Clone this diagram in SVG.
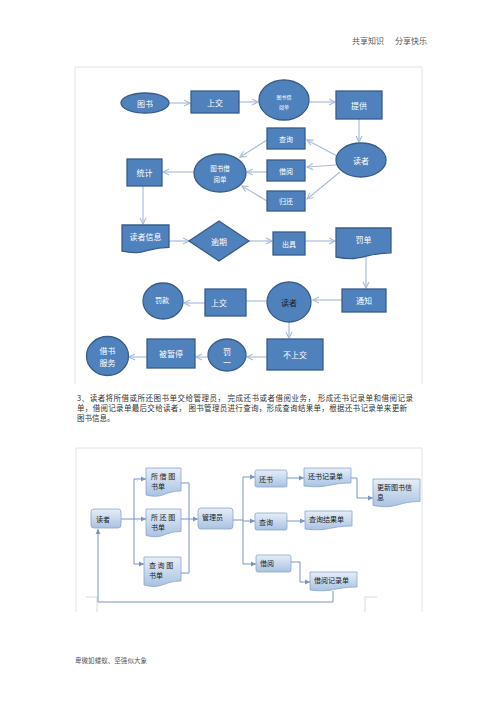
<svg xmlns="http://www.w3.org/2000/svg" width="500" height="707" viewBox="0 0 500 707">
<defs>
<style>
.t{font-family:"Noto Sans CJK SC","Noto Sans",sans-serif}
.n{fill:#4F81BD;stroke:#385D8A;stroke-width:1.3}
.wt{fill:#fff;font-size:8px;text-anchor:middle;dominant-baseline:central}
.c{fill:none;stroke:#A9BEDB;stroke-width:1.2}
.b{fill:url(#g);stroke:#8AA6CB;stroke-width:0.8}
.bt{fill:#222;font-size:7px;dominant-baseline:central}
.bc{fill:none;stroke:#7896C2;stroke-width:1}
.fr{fill:none;stroke:#E2E2E2;stroke-width:1}
.gray{fill:#555}
</style>
<linearGradient id="g" x1="0" y1="0" x2="0" y2="1">
<stop offset="0" stop-color="#E6EEF8"/>
<stop offset="1" stop-color="#A9C2E2"/>
</linearGradient>
<marker id="oa" markerWidth="8" markerHeight="8" refX="7" refY="4" orient="auto" markerUnits="userSpaceOnUse">
<path d="M1,1 L7,4 L1,7" fill="none" stroke="#A9BEDB" stroke-width="1.2"/>
</marker>
<marker id="fa" markerWidth="6" markerHeight="6" refX="5" refY="3" orient="auto" markerUnits="userSpaceOnUse">
<path d="M0,0.5 L5,3 L0,5.5 Z" fill="#7896C2"/>
</marker>
</defs>
<rect width="500" height="707" fill="#fff"/>

<!-- header -->
<text class="t gray" x="352" y="44" font-size="8">共享知识</text>
<text class="t gray" x="395" y="44" font-size="8">分享快乐</text>

<!-- top frame -->
<path class="fr" d="M75,384 V67 H422 V384"/>

<!-- top connectors -->
<g id="top-connectors">
<line class="c" x1="169" y1="103" x2="190" y2="103" marker-end="url(#oa)"/>
<line class="c" x1="239" y1="102" x2="258" y2="102" marker-end="url(#oa)"/>
<line class="c" x1="309" y1="102" x2="335" y2="102" marker-end="url(#oa)"/>
<line class="c" x1="359" y1="119" x2="359" y2="142" marker-end="url(#oa)"/>
<line class="c" x1="337" y1="156" x2="307" y2="140" marker-end="url(#oa)"/>
<line class="c" x1="336" y1="165" x2="307" y2="167" marker-end="url(#oa)"/>
<line class="c" x1="340" y1="172" x2="307" y2="199" marker-end="url(#oa)"/>
<line class="c" x1="267" y1="140" x2="240" y2="157" marker-end="url(#oa)"/>
<line class="c" x1="267" y1="172" x2="247" y2="172" marker-end="url(#oa)"/>
<line class="c" x1="267" y1="201" x2="242" y2="186" marker-end="url(#oa)"/>
<line class="c" x1="194" y1="172" x2="163" y2="172" marker-end="url(#oa)"/>
<line class="c" x1="143" y1="186" x2="143" y2="224" marker-end="url(#oa)"/>
<line class="c" x1="169" y1="241" x2="189" y2="241" marker-end="url(#oa)"/>
<line class="c" x1="249" y1="241" x2="272" y2="241" marker-end="url(#oa)"/>
<line class="c" x1="305" y1="241" x2="335" y2="241" marker-end="url(#oa)"/>
<line class="c" x1="366" y1="257" x2="366" y2="288" marker-end="url(#oa)"/>
<line class="c" x1="342" y1="300" x2="313" y2="300" marker-end="url(#oa)"/>
<line class="c" x1="267" y1="301" x2="246" y2="301"/>
<line class="c" x1="205" y1="303" x2="184" y2="303" marker-end="url(#oa)"/>
<line class="c" x1="289" y1="322" x2="289" y2="338" marker-end="url(#oa)"/>
<line class="c" x1="267" y1="357" x2="247" y2="357" marker-end="url(#oa)"/>
<line class="c" x1="208" y1="357" x2="196" y2="357" marker-end="url(#oa)"/>
<line class="c" x1="147" y1="357" x2="129" y2="357" marker-end="url(#oa)"/>
</g>

<!-- top nodes -->
<g id="n-tushu"><ellipse class="n" cx="145" cy="103" rx="24" ry="10"/><text class="t wt" x="145" y="103">图书</text></g>
<g id="n-shangjiao"><rect class="n" x="191" y="91" width="48" height="22"/><text class="t wt" x="215" y="102">上交</text></g>
<g id="n-jieyuedan1"><ellipse class="n" cx="284" cy="100" rx="25" ry="20"/><text class="t wt" x="284" y="96" style="font-size:5px">图书借</text><text class="t wt" x="284" y="106" style="font-size:5px">阅单</text></g>
<g id="n-tigong"><rect class="n" x="336" y="91" width="46" height="28"/><text class="t wt" x="359" y="105">提供</text></g>
<g id="n-duzhe1"><ellipse class="n" cx="361" cy="160" rx="25" ry="17"/><text class="t wt" x="361" y="160">读者</text></g>
<g id="n-chaxun"><rect class="n" x="267" y="128" width="38" height="21"/><text class="t wt" x="286" y="138.5" style="font-size:7px">查询</text></g>
<g id="n-jieyue"><rect class="n" x="267" y="160" width="38" height="21"/><text class="t wt" x="286" y="170.5" style="font-size:7px">借阅</text></g>
<g id="n-guihuan"><rect class="n" x="267" y="191" width="38" height="20"/><text class="t wt" x="286" y="201" style="font-size:7px">归还</text></g>
<g id="n-jieyuedan2"><ellipse class="n" cx="220" cy="173" rx="26" ry="19"/><text class="t wt" x="220" y="168" style="font-size:6.5px">图书借</text><text class="t wt" x="220" y="179" style="font-size:6.5px">阅单</text></g>
<g id="n-tongji"><rect class="n" x="127" y="159" width="35" height="27"/><text class="t wt" x="144.5" y="172.5">统计</text></g>
<g id="n-duzhexinxi"><path class="n" d="M122,225 H169 V247.4 C145.5,247.4 145.5,256 122,251.2 Z"/><text class="t wt" x="145.5" y="236">读者信息</text></g>
<g id="n-yuqi"><path class="n" d="M219,221 L249,241 L219,261 L189,241 Z"/><text class="t wt" x="219" y="241">逾期</text></g>
<g id="n-chuju"><rect class="n" x="273" y="232" width="32" height="23"/><text class="t wt" x="289" y="243.5" style="font-size:7px">出具</text></g>
<g id="n-fadan"><path class="n" d="M336,228 H391 V252.8 C363.5,252.8 363.5,262.3 336,257 Z"/><text class="t wt" x="363.5" y="239">罚单</text></g>
<g id="n-tongzhi"><rect class="n" x="342" y="289" width="44" height="23"/><text class="t wt" x="364" y="300">通知</text></g>
<g id="n-duzhe2"><ellipse class="n" cx="289" cy="302" rx="22" ry="20"/><text class="t wt" x="289" y="302" style="fill:#1a1a1a">读者</text></g>
<g id="n-shangjiao2"><rect class="n" x="205" y="289" width="41" height="27"/><text class="t wt" x="219" y="302">上交</text></g>
<g id="n-fakuan"><ellipse class="n" cx="163" cy="301" rx="20" ry="18"/><text class="t wt" x="162" y="300" style="font-size:7px">罚款</text></g>
<g id="n-bushangjiao"><rect class="n" x="267" y="339" width="56" height="31"/><text class="t wt" x="295" y="354.5">不上交</text></g>
<g id="n-fa"><ellipse class="n" cx="227" cy="355" rx="19" ry="16"/><text class="t wt" x="227" y="351">罚</text><text class="t wt" x="227" y="362">一</text></g>
<g id="n-beizanting"><rect class="n" x="147" y="339" width="48" height="29"/><text class="t wt" x="171" y="353">被暂停</text></g>
<g id="n-jieshufuwu"><ellipse class="n" cx="107.5" cy="356" rx="21" ry="19.5"/><text class="t wt" x="107.5" y="350">借书</text><text class="t wt" x="107.5" y="362">服务</text></g>

<!-- paragraph -->
<text class="t" x="77" y="401" font-size="7.5" fill="#333" textLength="336" lengthAdjust="spacing">3、读者将所借或所还图书单交给管理员， 完成还书或者借阅业务， 形成还书记录单和借阅记录</text>
<text class="t" x="77" y="411" font-size="7.5" fill="#333" textLength="330" lengthAdjust="spacing">单，借阅记录单最后交给读者， 图书管理员进行查询，形成查询结果单，根据还书记录单来更新</text>
<text class="t" x="77" y="421" font-size="7.5" fill="#333">图书信息。</text>

<!-- bottom frame -->
<path class="fr" d="M76,612 V448 H422 V612"/>
<path d="M86,597 H97 V612 M365,612 V597 H377" fill="none" stroke="#CFCFCF" stroke-width="0.8"/>

<!-- bottom connectors -->
<g id="bottom-connectors">
<polyline class="bc" points="121,519 134,519"/>
<polyline class="bc" points="134,479 134,564"/>
<line class="bc" x1="134" y1="479" x2="146" y2="479" marker-end="url(#fa)"/>
<line class="bc" x1="134" y1="519" x2="146" y2="519" marker-end="url(#fa)"/>
<line class="bc" x1="134" y1="564" x2="144" y2="564" marker-end="url(#fa)"/>
<polyline class="bc" points="181,483 189,483 189,573 181,573"/>
<line class="bc" x1="181" y1="519" x2="198" y2="519" marker-end="url(#fa)"/>
<polyline class="bc" points="233,520 243,520"/>
<polyline class="bc" points="243,477 243,564"/>
<line class="bc" x1="243" y1="477" x2="255" y2="477" marker-end="url(#fa)"/>
<line class="bc" x1="243" y1="521" x2="255" y2="521" marker-end="url(#fa)"/>
<line class="bc" x1="243" y1="564" x2="256" y2="564" marker-end="url(#fa)"/>
<line class="bc" x1="287" y1="478" x2="304" y2="478" marker-end="url(#fa)"/>
<polyline class="bc" points="351,478 357,478 357,498 373,498" marker-end="url(#fa)"/>
<line class="bc" x1="287" y1="521" x2="305" y2="521" marker-end="url(#fa)"/>
<polyline class="bc" points="291,562 300,562 300,582 310,582" marker-end="url(#fa)"/>
<polyline class="bc" points="333,591 333,602 98,602 98,529" marker-end="url(#fa)"/>
</g>

<!-- bottom nodes -->
<g id="b-duzhe"><rect class="b" x="91" y="509" width="30" height="19" rx="3"/><text class="t bt" x="96" y="518.5">读者</text></g>
<g id="b-suojie"><path class="b" d="M146,468 H181 V491 C163.5,491 163.5,499.5 146,495 Z"/><text class="t bt" x="151" y="476">所 借 图</text><text class="t bt" x="151" y="486">书单</text></g>
<g id="b-suohuan"><path class="b" d="M146,509 H181 V531.5 C163.5,531.5 163.5,540 146,535.5 Z"/><text class="t bt" x="151" y="517">所 还 图</text><text class="t bt" x="151" y="527">书单</text></g>
<g id="b-chaxundan"><path class="b" d="M144,557 H181 V581 C162.5,581 162.5,590 144,585 Z"/><text class="t bt" x="149" y="565">查 询 图</text><text class="t bt" x="149" y="575">书单</text></g>
<g id="b-guanliyuan"><rect class="b" x="198" y="508" width="35" height="21" rx="3"/><text class="t bt" x="202" y="517">管理员</text></g>
<g id="b-huanshu"><rect class="b" x="255" y="470" width="32" height="17" rx="2"/><text class="t bt" x="259" y="478.5">还书</text></g>
<g id="b-chaxun"><rect class="b" x="255" y="513" width="32" height="17" rx="2"/><text class="t bt" x="259" y="521.5">查询</text></g>
<g id="b-jieyue"><rect class="b" x="256" y="555" width="35" height="17" rx="2"/><text class="t bt" x="260" y="563">借阅</text></g>
<g id="b-huanshujilu"><path class="b" d="M304,468 H351 V483 C327.5,483 327.5,489 304,486 Z"/><text class="t bt" x="308" y="475.5">还书记录单</text></g>
<g id="b-gengxin"><path class="b" d="M373,479 H420 V501.5 C396.5,501.5 396.5,510 373,505.5 Z"/><text class="t bt" x="377" y="487">更新图书信</text><text class="t bt" x="377" y="497">息</text></g>
<g id="b-chaxunjieguo"><path class="b" d="M305,511 H352 V526 C328.5,526 328.5,532 305,529 Z"/><text class="t bt" x="309" y="518.5">查询结果单</text></g>
<g id="b-jieyuejilu"><path class="b" d="M310,572 H357 V587 C333.5,587 333.5,593 310,590 Z"/><text class="t bt" x="314" y="580">借阅记录单</text></g>

<!-- footer -->
<text class="t gray" x="75" y="663" font-size="6.5" textLength="72" lengthAdjust="spacing">卑微如蝼蚁、坚强似大象</text>
</svg>
